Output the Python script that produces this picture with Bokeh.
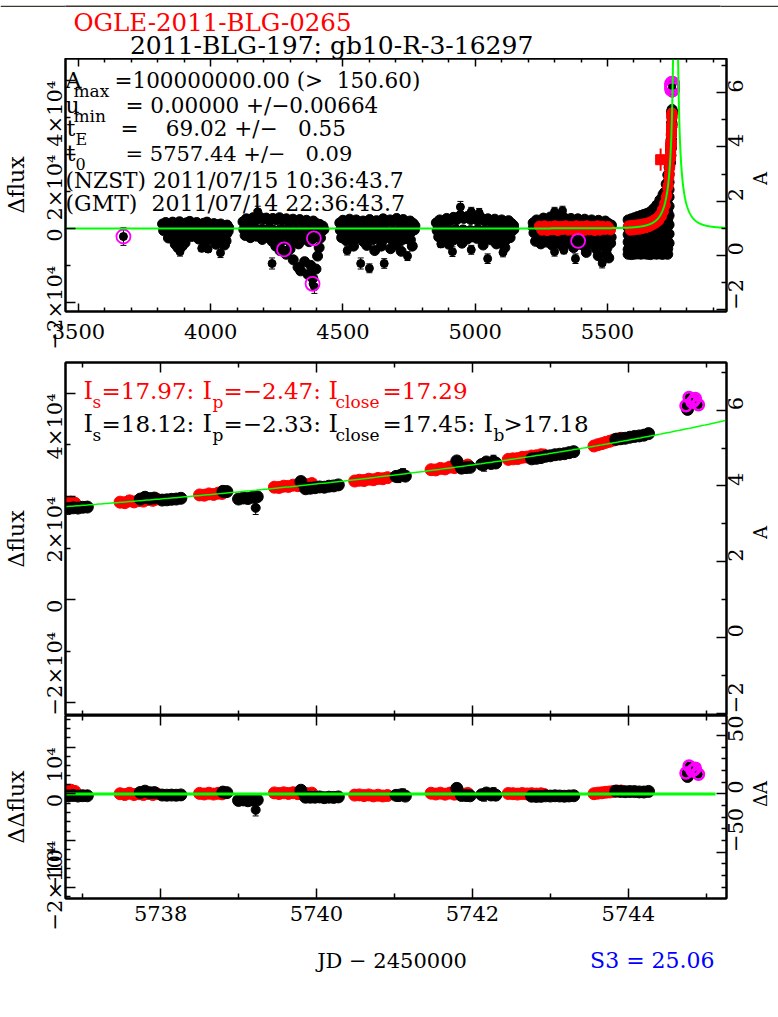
import numpy as np
from bokeh.plotting import figure
from bokeh.models import (Range1d, LinearAxis, Label, ColumnDataSource, Whisker,
                          TeeHead, FixedTicker)
from bokeh.layouts import column
from bokeh.embed import file_html
from bokeh.resources import INLINE

FONT = "DejaVu Serif"
BLACK, RED, GREEN, MAGENTA, BLUE = "#000000", "#ff0000", "#00ff00", "#ff00ff", "#0000ff"
DARK = "#3b392e"
NB = "\u00a0"  # non-breaking space keeps column alignment in the fit summary

# ---------------------------------------------------------------- fit parameters
T0 = 5757.44      # time of peak (JD - 2450000)
TE = 69.02        # Einstein time [days]
UMIN = 0.0        # impact parameter
FS = 7350.0       # source flux (delta-flux per unit magnification)

# ---------------------------------------------------------------- photometry (t, dflux)
season_2006 = [
    (3818, 1200), (3830, 1600), (3843, 1000), (3856, 1700), (3869, 1300), (3882, 1800), (3895, 1100),
    (3908, 1500), (3921, 1900), (3934, 1200), (3947, 1600), (3960, 1000), (3973, 1400), (3986, 1700),
    (3999, 900), (4012, 1300), (4025, 1000), (4038, 1200), (4050, 600), (4062, 900), (4068, 200),
    (3822, -600), (3836, -300), (3850, -1200), (3864, -800), (3878, -1500), (3892, -500), (3906, -1100),
    (3920, -700), (3934, -1400), (3948, -400), (3962, -900), (3976, -1300), (3990, -600), (4004, -1000),
    (4018, -400), (4032, -1200), (4046, -700), (4060, -1500), (4066, -800),
    (3840, -2600), (3858, -3000), (3872, -2400), (3886, -3300), (3900, -2700), (3928, -2200), (3955, -2900),
    (3980, -2500), (4008, -3100), (4024, -2300), (4044, -2800), (4058, -3400),
    (3866, -4300), (3876, -5200), (3892, -4800), (3903, -3900), (3978, -4100), (4020, -4300), (4052, -4500),
]
season_2007 = [
    (4122, 1800), (4135, 2600), (4148, 2000), (4160, 2900), (4172, 2300), (4185, 3100), (4198, 2500),
    (4210, 2800), (4222, 2100), (4235, 2700), (4248, 2300), (4260, 2900), (4273, 2200), (4286, 2600),
    (4298, 1900), (4311, 2500), (4324, 2000), (4337, 2400), (4350, 1700), (4362, 2200), (4375, 1500),
    (4388, 2000), (4400, 1300), (4412, 1100), (4424, 600),
    (4125, -300), (4138, 200), (4152, -600), (4166, 0), (4180, -900), (4194, -200), (4208, -700),
    (4222, 100), (4236, -500), (4250, -1000), (4264, -300), (4278, -800), (4292, -200), (4306, -1100),
    (4320, -400), (4334, -900), (4348, -300), (4362, -1000), (4376, -500), (4390, -1200), (4404, -600),
    (4418, -900), (4428, -300),
    (4130, -1900), (4150, -2500), (4172, -2100), (4195, -3000), (4215, -2400), (4232, -3500), (4245, -2800),
    (4258, -4000), (4270, -3300), (4290, -2600), (4302, -3800), (4318, -2900), (4332, -4200), (4345, -3100),
    (4358, -2500), (4372, -3600), (4386, -2800), (4400, -2200), (4415, -2600),
    (4246, -4800), (4262, -6000), (4285, -7000), (4300, -5600), (4312, -8500), (4330, -10500),
    (4340, -11500), (4355, -9000), (4368, -12500), (4378, -10000), (4386, -13500), (4398, -11000),
    (4404, -7500), (4410, -5200),
]
season_2008 = [
    (4488, 1500), (4500, 2200), (4512, 1600), (4525, 2500), (4538, 1800), (4550, 2300), (4563, 1400),
    (4576, 2000), (4588, 1700), (4601, 2400), (4614, 1500), (4627, 2100), (4640, 1800), (4652, 2600),
    (4665, 1700), (4678, 2300), (4690, 1900), (4703, 2700), (4716, 1800), (4728, 2400), (4741, 1600),
    (4754, 2000), (4766, 1300), (4772, 700),
    (4490, -500), (4504, -1000), (4518, -300), (4532, -1200), (4546, -600), (4560, -1400), (4574, -400),
    (4588, -1000), (4602, -600), (4616, -1300), (4630, -200), (4644, -900), (4658, -500), (4672, -1200),
    (4686, -700), (4700, -1400), (4714, -300), (4728, -1000), (4742, -600), (4756, -1100), (4770, -400),
    (4495, -2500), (4512, -3300), (4528, -2200), (4545, -3000), (4560, -2600), (4578, -3600), (4595, -2400),
    (4612, -3100), (4630, -2700), (4648, -3500), (4665, -2300), (4684, -3000), (4700, -2500), (4720, -3300),
    (4738, -2800), (4755, -3100),
    (4540, -4800), (4590, -4600), (4620, -6000), (4645, -4800), (4680, -5500), (4700, -4400),
    (4720, -6200), (4762, -4800),
]
season_2009 = [
    (4853, 1500), (4866, 2300), (4879, 1800), (4892, 2700), (4905, 2100), (4918, 3000), (4931, 2400),
    (4944, 3500), (4957, 2700), (4970, 3200), (4983, 2400), (4996, 3000), (5009, 2200), (5022, 2900),
    (5035, 2000), (5048, 2600), (5061, 1800), (5074, 2500), (5087, 1700), (5100, 2300), (5113, 1600),
    (5126, 2100), (5138, 1300), (5145, 800),
    (4856, -600), (4870, -200), (4884, -1100), (4898, -500), (4912, -1300), (4926, -300), (4940, -900),
    (4954, -400), (4968, -1200), (4982, -600), (4996, -1000), (5010, -300), (5024, -900), (5038, -500),
    (5052, -1200), (5066, -400), (5080, -1000), (5094, -600), (5108, -1300), (5122, -500), (5136, -900),
    (5146, -300),
    (4862, -2300), (4880, -2800), (4898, -2100), (4916, -3200), (4934, -2500), (4952, -2000), (4970, -2900),
    (4988, -2300), (5006, -2700), (5024, -2000), (5042, -2600), (5060, -3100), (5078, -2200), (5096, -2800),
    (5114, -3300), (5132, -2500),
    (4900, -4300), (4950, -4000), (5030, -4500), (5080, -4200), (5112, -5200),
]
season_2010 = [
    (5219, 1500), (5232, 2300), (5245, 1900), (5258, 2800), (5271, 2200), (5284, 3100), (5297, 2500),
    (5310, 3300), (5323, 2600), (5336, 2900), (5349, 2200), (5362, 2700), (5375, 2100), (5388, 2600),
    (5401, 1900), (5414, 2500), (5427, 1800), (5440, 2300), (5453, 1700), (5466, 2200), (5479, 1500),
    (5492, 2000), (5505, 1300), (5515, 900), (5220, 200), (5230, -300),
    (5222, -1200), (5236, -2000), (5250, -1500), (5264, -2300), (5278, -1700), (5292, -2500), (5306, -1900),
    (5320, -2800), (5334, -2100), (5348, -2600), (5362, -2000), (5376, -3000), (5390, -2200), (5404, -2700),
    (5418, -1900), (5432, -2600), (5446, -2100), (5460, -2900), (5474, -2300), (5488, -2700), (5502, -1800),
    (5514, -2400),
    (5228, -3500), (5248, -4200), (5268, -3700), (5290, -4500), (5310, -3900), (5330, -4800), (5352, -4000),
    (5372, -5200), (5395, -4300), (5415, -5000), (5438, -4200), (5458, -5600), (5478, -4600), (5498, -5300),
    (5512, -4000),
    (5420, -6500), (5465, -7400), (5495, -6800), (5505, -8000),
]
season_2010_red = [
    (5242, 600), (5252, -500), (5262, 700), (5272, -600), (5282, 500), (5292, -400), (5302, 700),
    (5312, -600), (5322, 600), (5332, -300), (5342, 700), (5352, -500), (5362, 500), (5372, -600),
    (5382, 700), (5392, -400), (5402, 600), (5412, -600), (5422, 700), (5432, -400), (5442, 500),
    (5452, -600), (5462, 700), (5472, -500), (5482, 600), (5492, -300), (5502, 500), (5512, -400),
]
# 2011 season before the zoomed window: (t, [dflux values at that epoch])
season_2011_cols = [
    (5578, [2300, 300, -1700, -3700, -5700, -7000]),
    (5584, [1300, -700, -2700, -4700, -6600]),
    (5590, [2600, 600, -1400, -3400, -5400, -7100]),
    (5596, [1600, -400, -2400, -4400, -6400]),
    (5602, [2900, 900, -1100, -3100, -5100, -7000]),
    (5608, [1900, -100, -2100, -4100, -6100]),
    (5614, [3200, 1200, -800, -2800, -4800, -6900]),
    (5620, [2200, 200, -1800, -3800, -5800]),
    (5626, [3500, 1500, -500, -2500, -4500, -7000]),
    (5632, [2500, 500, -1500, -3500, -5500]),
    (5638, [3800, 1800, -200, -2200, -4200, -6900]),
    (5644, [2800, 800, -1200, -3200, -5200]),
    (5650, [4100, 2100, 100, -1900, -3900, -7000]),
    (5656, [3200, 1200, -800, -2800, -4800, -6400]),
    (5662, [4500, 2500, 500, -1500, -3500, -5500, -7100]),
    (5668, [3700, 1700, -300, -2300, -4300, -6200]),
    (5674, [5300, 3300, 1300, -700, -2700, -4700, -6900]),
    (5680, [4600, 2600, 600, -1400, -3400, -5400]),
    (5686, [6300, 4300, 2300, 300, -1700, -3700, -5700, -7000]),
    (5692, [5600, 3600, 1600, -400, -2400, -4400, -6300]),
    (5698, [7700, 5700, 3700, 1700, -300, -2300, -4300, -6800]),
    (5704, [7000, 5000, 3000, 1000, -1000, -3000, -5000, -7000]),
    (5710, [9200, 7200, 5200, 3200, 1200, -800, -2800, -5000, -7000]),
    (5716, [9800, 7800, 5800, 3800, 1800, -200, -2200, -4400, -6800]),
    (5722, [12000, 10000, 8000, 6000, 4000, 2000, 0, -2500, -4800, -6900]),
    (5728, [14500, 12500, 10500, 8500, 6500, 4500, 2500, 500, -1500, -3500, -5500, -7000]),
    (5733, [16500, 14500, 12500, 10500, 8500, 6000, 3500, 1000, -1500, -4000]),
]
season_2011_red = [
    (5580, 700), (5586, -500), (5592, 800), (5598, -400), (5604, 900), (5610, -300), (5616, 1000),
    (5622, -200), (5628, 1100), (5634, 0), (5640, 1300), (5646, 200), (5652, 1500), (5658, 500),
    (5664, 1800), (5670, 900), (5676, 2300), (5682, 1400), (5688, 2900), (5694, 2100), (5700, 3900),
    (5704, 3200), (5708, 5200), (5712, 4600), (5716, 6800), (5719, 6300), (5722, 8400), (5725, 9000),
    (5728, 11000), (5730, 11800), (5732, 13600), (5734, 14800), (5735, 16300), (5736, 16900),
]
# single point with a large error bar (t, dflux, err)
red_marked = [(5701, 18600, 3000)]

# points with visible error bars (t, dflux, err)
outliers = [
    (3670, -2200, 2400),
    (3884, -6300, 1200), (4037, -6600, 1300), (3966, -5400, 900), (3990, -5600, 900),
    (4178, 4500, 1500), (4232, -9500, 1500), (4392, -15800, 1800),
    (4516, -6000, 1200), (4567, -9500, 1500), (4600, -10800, 1200), (4656, -9500, 1300), (4744, -7500, 1200),
    (4944, 5800, 1500), (4985, 4500, 1200), (5015, 4200, 1200), (4870, -4200, 1000), (4914, -6300, 1300),
    (4985, -5800, 1200), (5047, -8200, 1300), (5105, -6500, 1200),
    (5300, 4500, 1200), (5330, 4800, 1200), (5300, -6300, 1200), (5335, -5900, 1000),
    (5379, -8200, 1300), (5480, -9400, 1300),
]
# flagged (ringed) points
top_flagged = [(3670, -2200), (4277, -5700), (4390, -2700), (4385, -15000), (5389, -3400)]

# zoomed window around the peak
mid_red = [
    (5736.80, 18750), (5736.85, 18900), (5736.90, 18700),
    (5737.48, 18900), (5737.54, 18800), (5737.60, 19150), (5737.66, 18950), (5737.72, 19200),
    (5737.78, 19100), (5737.84, 19400), (5737.90, 19250), (5737.95, 19500),
    (5738.50, 20300), (5738.56, 20250), (5738.62, 20500), (5738.68, 20400), (5738.74, 20650), (5738.79, 20600),
    (5739.46, 21800), (5739.52, 21750), (5739.58, 22000), (5739.64, 21950), (5739.70, 22200),
    (5739.76, 22100), (5739.82, 22350), (5739.88, 22300), (5739.94, 22500),
    (5740.49, 23000), (5740.55, 23150), (5740.61, 23100), (5740.67, 23350), (5740.73, 23250),
    (5740.79, 23500), (5740.85, 23450), (5740.91, 23650),
    (5741.47, 25200), (5741.53, 25150), (5741.59, 25450), (5741.65, 25350), (5741.71, 25700),
    (5741.77, 25600), (5741.83, 25900), (5741.89, 25850), (5741.94, 26100),
    (5742.46, 27200), (5742.52, 27300), (5742.58, 27350), (5742.64, 27600), (5742.70, 27650),
    (5742.76, 27850), (5742.82, 27900), (5742.88, 28100), (5742.92, 28050),
    (5743.56, 29800), (5743.61, 30050), (5743.66, 30250), (5743.71, 30500), (5743.76, 30700),
    (5743.81, 30950), (5743.86, 31150), (5743.91, 31300),
]
mid_black = [
    (5736.82, 17650), (5736.88, 17800), (5736.94, 17750), (5737.00, 17900), (5737.06, 17950),
    (5737.74, 19500), (5737.80, 19850), (5737.86, 19600), (5737.92, 19700),
    (5738.02, 19300), (5738.08, 19350), (5738.14, 19450), (5738.20, 19500), (5738.26, 19650),
    (5738.80, 21000), (5738.85, 20950),
    (5739.00, 19500), (5739.06, 19700), (5739.12, 19600), (5739.18, 19850), (5739.24, 19950),
    (5739.80, 22900), (5739.86, 21500), (5739.92, 21600), (5739.98, 21700), (5740.04, 21850),
    (5740.10, 21800), (5740.16, 22000), (5740.22, 22050), (5740.28, 22250),
    (5741.02, 23900), (5741.08, 24100), (5741.14, 23950),
    (5741.80, 26900), (5741.86, 25500), (5741.92, 25600), (5741.97, 25650),
    (5742.12, 26200), (5742.18, 26700), (5742.24, 26400), (5742.30, 26500),
    (5742.76, 27300), (5742.82, 27400), (5742.88, 27550), (5742.94, 27800), (5743.00, 27900),
    (5743.06, 28100), (5743.12, 28200), (5743.18, 28300), (5743.24, 28500), (5743.30, 28700),
    (5743.84, 31100), (5743.90, 31200), (5743.96, 31300), (5744.02, 31500), (5744.08, 31650),
    (5744.14, 31750), (5744.20, 31900), (5744.26, 32200),
    (5744.76, 36900),
]
mid_black_err = [
    (5739.22, 17800, 1300), (5741.05, 23600, 900), (5741.11, 24500, 900),
    (5742.15, 25900, 1000), (5742.27, 27100, 900),
]
mid_flagged = [(5744.74, 37600), (5744.78, 39200), (5744.82, 38300), (5744.86, 39000),
               (5744.90, 37800), (5744.84, 38600)]

# ---------------------------------------------------------------- axes: ranges, ticks, labels
top_x_range = (3451, 5950)
zoom_x_range = (5736.78, 5745.26)
flux_range = (-22500, 46000)
resid_range = (-22400, 16800)
dA_range = (-89.8, 67.2)

top_x_ticks = [3500, 4000, 4500, 5000, 5500]
top_x_labels = ["3500", "4000", "4500", "5000", "5500"]
top_x_minor = [v for v in range(3500, 5950, 100) if v % 500]
zoom_x_ticks = [5738, 5740, 5742, 5744]
zoom_x_labels = ["5738", "5740", "5742", "5744"]
zoom_x_minor = [5737, 5739, 5741, 5743, 5745]
flux_ticks = [-20000, 0, 20000, 40000]
flux_labels = ["−2×10⁴", "0", "2×10⁴", "4×10⁴"]
flux_minor = [-10000, 10000, 30000]
amp_ticks = [-2, 0, 2, 4, 6]
amp_labels = ["−2", "0", "2", "4", "6"]
amp_minor = [-1, 1, 3, 5, 7]
resid_ticks = [-20000, -10000, 0, 10000]
resid_labels = ["−2×10⁴", "−10⁴", "0", "10⁴"]
resid_minor = [-22000, -18000, -16000, -14000, -12000, -8000, -6000, -4000, -2000,
               2000, 4000, 6000, 8000, 12000, 14000, 16000]
dA_ticks = [-50, 0, 50]
dA_labels = ["−50", "0", "50"]
dA_minor = [-80, -70, -60, -40, -30, -20, -10, 10, 20, 30, 40, 60]

# page geometry (pixels): the plot frames span x = 65 .. 726 on the page
FRAME_X = (65, 726)


def dflux_model(t):
    """Point-source point-lens (Paczynski) curve in delta-flux units."""
    u = np.sqrt(UMIN ** 2 + ((np.asarray(t, dtype=float) - T0) / TE) ** 2)
    amp = (u ** 2 + 2.0) / (u * np.sqrt(u ** 2 + 4.0))
    return (amp - 1.0) * FS


def split(pairs):
    return [p[0] for p in pairs], [p[1] for p in pairs]


def flatten(cols):
    return [(t, f) for t, fs in cols for f in fs]


def blank(w, h, color="white", x_rng=None):
    """Figure without axes whose data units are pixels; used for text rows and the page edge."""
    return figure(width=w, height=h, x_range=Range1d(*(x_rng or (0, w))), y_range=Range1d(0, h),
                  x_axis_type=None, y_axis_type=None, output_backend="svg",
                  toolbar_location=None, min_border=0, outline_line_color=None,
                  background_fill_color=color, border_fill_color=color)


def base_fig(x_rng, y_rng, frame_h, b_top, b_bottom, amp_rng):
    p = figure(frame_width=661, frame_height=frame_h,
               x_range=Range1d(*x_rng), y_range=Range1d(*y_rng),
               x_axis_type=None, y_axis_type=None,
               output_backend="svg", toolbar_location=None,
               min_border_left=65, min_border_right=52,
               min_border_top=b_top, min_border_bottom=b_bottom,
               background_fill_color="white", border_fill_color="white",
               outline_line_color=BLACK, outline_line_width=2)
    p.extra_y_ranges = {"amp": Range1d(*amp_rng)}
    return p


def add_axis(p, side, ticks, minor, tick_len, minor_len, labels=None, standoff=10,
             title=None, title_standoff=0, title_size=22, amp=False):
    kw = {"y_range_name": "amp"} if amp else {}
    ax = LinearAxis(ticker=FixedTicker(ticks=ticks, minor_ticks=minor), **kw)
    ax.major_tick_in, ax.major_tick_out = tick_len, 0
    ax.minor_tick_in, ax.minor_tick_out = minor_len, 0
    ax.major_tick_line_width = 1.5
    ax.minor_tick_line_width = 1.5
    ax.axis_line_width = 2
    ax.axis_line_color = BLACK
    if labels is None:
        # tick marks only: labels are not painted and take (almost) no room
        ax.major_label_text_color = None
        ax.major_label_text_font_size = "1px"
        ax.major_label_standoff = 0
    else:
        ax.major_label_overrides = dict(zip(ticks, labels))
        ax.major_label_text_font = FONT
        ax.major_label_text_font_size = "21px"
        ax.major_label_text_color = BLACK
        ax.major_label_standoff = standoff
        if side in ("left", "right"):
            ax.major_label_orientation = np.pi / 2
    if title is not None:
        ax.axis_label = title
        ax.axis_label_text_font = FONT
        ax.axis_label_text_font_style = "normal"
        ax.axis_label_text_font_size = f"{title_size}px"
        ax.axis_label_text_color = BLACK
        ax.axis_label_standoff = title_standoff
        if side == "right" and "axis_label_orientation" in ax.properties():
            ax.axis_label_orientation = np.pi / 2
    p.add_layout(ax, side)
    return ax


def note(p, x, y, text, size, color=BLACK, dx=0, dy=0, align="left"):
    p.add_layout(Label(x=x, y=y, x_offset=dx, y_offset=dy, text=text, text_font=FONT,
                       text_font_size=f"{size}px", text_color=color,
                       text_align=align, text_baseline="middle"))


def errbars(p, t, lo, hi, color=BLACK, width=1, head=6):
    src = ColumnDataSource(dict(t=list(t), lo=list(lo), hi=list(hi)))
    p.add_layout(Whisker(source=src, base="t", lower="lo", upper="hi", dimension="height",
                         line_color=color, line_width=width,
                         upper_head=TeeHead(size=head, line_color=color, line_width=width),
                         lower_head=TeeHead(size=head, line_color=color, line_width=width)))


# ================================================================ heading row (page y 7 .. 58)
header = blank(778, 51, x_rng=FRAME_X)
note(header, 73, 36.5, "OGLE-2011-BLG-0265", 24.5, RED)
note(header, 130, 13.5, "2011-BLG-197: gb10-R-3-16297", 25, BLACK)

# ================================================================ top: full light curve
p1 = base_fig(top_x_range, flux_range, 253, 0, 38,
              (1 + flux_range[0] / FS, 1 + flux_range[1] / FS))
add_axis(p1, "below", top_x_ticks, top_x_minor, 8, 4, top_x_labels, standoff=12)
add_axis(p1, "above", top_x_ticks, top_x_minor, 8, 4)
add_axis(p1, "left", flux_ticks, flux_minor, 10, 5, flux_labels, standoff=10,
         title="Δflux", title_standoff=0)
add_axis(p1, "right", amp_ticks, amp_minor, 10, 5, amp_labels, standoff=9,
         title="A", title_standoff=7, title_size=18, amp=True)

black_top = (season_2006 + season_2007 + season_2008 + season_2009 + season_2010
             + flatten(season_2011_cols) + mid_black)
bt, bf = split(black_top)
p1.scatter(bt, bf, size=10, color=BLACK)
ot = [o[0] for o in outliers]
of = [o[1] for o in outliers]
errbars(p1, ot, [o[1] - o[2] for o in outliers], [o[1] + o[2] for o in outliers])
p1.scatter(ot, of, size=8, color=BLACK)

rt, rf = split(season_2010_red + season_2011_red + mid_red)
p1.scatter(rt, rf, size=10, color=RED)
errbars(p1, [m[0] for m in red_marked], [m[1] - m[2] for m in red_marked],
        [m[1] + m[2] for m in red_marked], color=RED, width=2, head=0)
p1.scatter([m[0] for m in red_marked], [m[1] for m in red_marked], size=10,
           marker="square", color=RED)

ft, ff = split(top_flagged + mid_flagged)
p1.scatter(ft, ff, size=7, color=BLACK)
p1.scatter(ft, ff, size=14, fill_color=None, line_color=MAGENTA, line_width=1.8)

t_curve = np.sort(np.concatenate([np.linspace(3451, 5950, 2500), np.linspace(5735.013, 5780.013, 901)]))
p1.line(t_curve, dflux_model(t_curve), line_color=GREEN, line_width=2)

x0, y1 = top_x_range[0], flux_range[1]
note(p1, x0, y1, "A", 22, dx=0, dy=-22)
note(p1, x0, y1, "max", 17, dx=8, dy=-32)
note(p1, x0, y1, f"=100000000.00 (>{NB} 150.60)", 21.5, dx=49, dy=-22)
note(p1, x0, y1, "u", 22, dx=0, dy=-47)
note(p1, x0, y1, "min", 17, dx=8, dy=-57)
note(p1, x0, y1, "= 0.00000 +/−0.00664", 21.5, dx=60, dy=-47)
note(p1, x0, y1, "t", 22, dx=1, dy=-70)
note(p1, x0, y1, "E", 16, dx=10, dy=-81)
note(p1, x0, y1, f"={NB}{NB}{NB} 69.02 +/−{NB}{NB} 0.55", 21.5, dx=55, dy=-70)
note(p1, x0, y1, "t", 22, dx=1, dy=-95)
note(p1, x0, y1, "0", 16, dx=10, dy=-105)
note(p1, x0, y1, f"= 5757.44 +/−{NB}{NB} 0.09", 21, dx=60, dy=-95)
note(p1, x0, y1, "(NZST) 2011/07/15 10:36:43.7", 21.75, dx=0, dy=-122)
note(p1, x0, y1, f"(GMT){NB} 2011/07/14 22:36:43.7", 22, dx=0, dy=-145)

# ================================================================ middle: zoom on the rise
p2 = base_fig(zoom_x_range, flux_range, 353, 13, 0,
              (1 + flux_range[0] / FS, 1 + flux_range[1] / FS))
add_axis(p2, "above", zoom_x_ticks, zoom_x_minor, 10, 5)
add_axis(p2, "below", zoom_x_ticks, zoom_x_minor, 10, 5)
add_axis(p2, "left", flux_ticks, flux_minor, 10, 5, flux_labels, standoff=10,
         title="Δflux", title_standoff=0)
add_axis(p2, "right", amp_ticks, amp_minor, 10, 5, amp_labels, standoff=9,
         title="A", title_standoff=7, title_size=18, amp=True)

mrt, mrf = split(mid_red)
mbt, mbf = split(mid_black)
p2.scatter(mrt, mrf, size=12, color=RED)
p2.scatter(mbt, mbf, size=12, color=BLACK)
errbars(p2, [e[0] for e in mid_black_err], [e[1] - e[2] for e in mid_black_err],
        [e[1] + e[2] for e in mid_black_err])
p2.scatter([e[0] for e in mid_black_err], [e[1] for e in mid_black_err], size=9, color=BLACK)
mft, mff = split(mid_flagged)
p2.scatter(mft, mff, size=8, color=BLACK)
p2.scatter(mft, mff, size=11, fill_color=None, line_color=MAGENTA, line_width=2.5)

t_zoom = np.linspace(zoom_x_range[0], zoom_x_range[1], 300)
p2.line(t_zoom, dflux_model(t_zoom), line_color=GREEN, line_width=1.5)

zx0 = zoom_x_range[0]
for dy, s_mag, p_mag, c_mag, col in [(-28, "=17.97:", "=−2.47:", "=17.29", RED),
                                     (-61, "=18.12:", "=−2.33:", "=17.45:", BLACK)]:
    note(p2, zx0, y1, "I", 24, col, dx=18, dy=dy)
    note(p2, zx0, y1, "s", 17, col, dx=27, dy=dy - 11)
    note(p2, zx0, y1, s_mag, 23, col, dx=36, dy=dy)
    note(p2, zx0, y1, "I", 24, col, dx=137, dy=dy)
    note(p2, zx0, y1, "p", 17, col, dx=147, dy=dy - 11)
    note(p2, zx0, y1, p_mag, 23, col, dx=158, dy=dy)
    note(p2, zx0, y1, "I", 24, col, dx=263, dy=dy)
    note(p2, zx0, y1, "close", 17, col, dx=270, dy=dy - 11)
    note(p2, zx0, y1, c_mag, 23, col, dx=317, dy=dy)
note(p2, zx0, y1, "I", 24, BLACK, dx=418, dy=-61)
note(p2, zx0, y1, "b", 17, BLACK, dx=428, dy=-72)
note(p2, zx0, y1, ">17.18", 23, BLACK, dx=438, dy=-61)

# ================================================================ bottom: residuals
p3 = base_fig(zoom_x_range, resid_range, 183, 0, 32, dA_range)
add_axis(p3, "above", zoom_x_ticks, zoom_x_minor, 10, 5)
add_axis(p3, "below", zoom_x_ticks, zoom_x_minor, 10, 5, zoom_x_labels, standoff=7)
add_axis(p3, "left", resid_ticks, resid_minor, 10, 5, resid_labels, standoff=10,
         title="ΔΔflux", title_standoff=0)
add_axis(p3, "right", dA_ticks, dA_minor, 10, 5, dA_labels, standoff=9,
         title="ΔA", title_standoff=7, title_size=18, amp=True)

p3.scatter(mrt, np.array(mrf) - dflux_model(mrt), size=12, color=RED)
p3.scatter(mbt, np.array(mbf) - dflux_model(mbt), size=12, color=BLACK)
et = [e[0] for e in mid_black_err]
ef = np.array([e[1] for e in mid_black_err]) - dflux_model(et)
ee = np.array([e[2] for e in mid_black_err])
errbars(p3, et, ef - ee, ef + ee)
p3.scatter(et, ef, size=9, color=BLACK)
p3.scatter(mft, np.array(mff) - dflux_model(mft), size=8, color=BLACK)
p3.scatter(mft, np.array(mff) - dflux_model(mft), size=11, fill_color=None,
           line_color=MAGENTA, line_width=2.5)
t_res = np.linspace(zoom_x_range[0], 5745.12, 100)
p3.line(t_res, dflux_model(t_res) - dflux_model(t_res), line_color=GREEN, line_width=3)

# ================================================================ axis title row (page y 930 .. 1017)
footer = blank(778, 87, x_rng=FRAME_X)
note(footer, 394.5, 57, "JD − 2450000", 21, BLACK, align="center")
note(footer, 720, 57, "S3 = 25.06", 22, BLUE, align="right")

# ================================================================ page
band = blank(778, 7, DARK)
page = column(band, header, p1, p2, p3, footer, spacing=0)

open("out.html", "w").write(file_html(page, INLINE))
